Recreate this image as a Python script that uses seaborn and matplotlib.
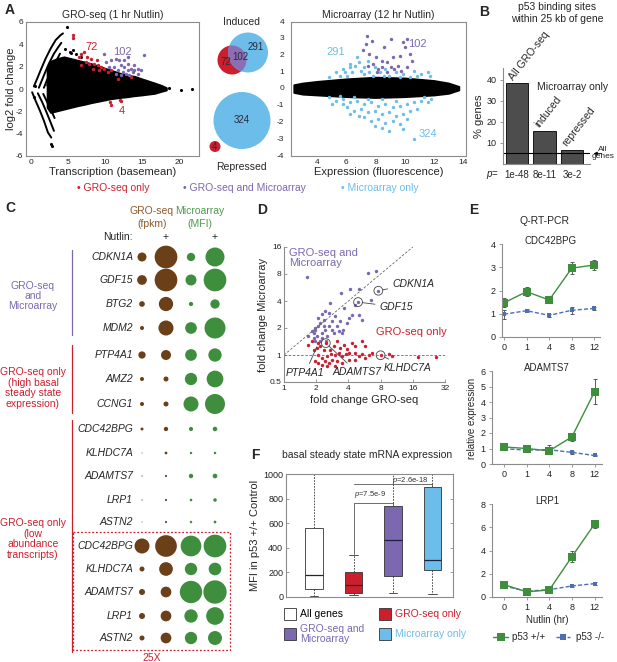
import numpy as np
import pandas as pd
import matplotlib
matplotlib.use("Agg")
import matplotlib.pyplot as plt
from matplotlib.patches import Circle, Rectangle
from matplotlib.lines import Line2D
import seaborn as sns

sns.set_style("white")
plt.rcParams["font.family"] = ["Liberation Sans", "DejaVu Sans"]
plt.rcParams["mathtext.fontset"] = "custom"
plt.rcParams["mathtext.it"] = "Liberation Sans:italic"
plt.rcParams["mathtext.rm"] = "Liberation Sans"
plt.rcParams["axes.unicode_minus"] = False

RED = "#cc1f2e"
PURPLE = "#7b68b0"
SKY = "#6cbde9"
BROWN = "#6b3f18"
GREEN = "#3e8e3e"
GREY = "#8c8c8c"

# ---------------- data: A, GRO-seq MA plot ----------------
gro_cloud_x = [2.17, 2.63, 3.53, 4.44, 5.35, 6.25, 7.16, 8.07, 9.43, 10.79, 12.15, 13.05, 13.96, 14.87, 16.68, 17.59, 18.27]
gro_cloud_hi = [1.97, 2.48, 2.72, 2.87, 2.72, 2.57, 2.42, 2.27, 1.97, 1.67, 1.37, 1.22, 1.13, 0.92, 0.53, 0.32, 0.11]
gro_cloud_lo = [-1.64, -2.09, -1.94, -1.79, -1.64, -1.49, -1.37, -1.22, -1.04, -0.86, -0.74, -0.68, -0.59, -0.53, -0.38, -0.20, -0.08]
gro_arc_x = [[0.36, 0.81, 1.27, 1.95, 2.63, 3.31, 3.99, 4.30],
             [1.04, 1.72, 2.40, 3.08, 3.76, 4.08],
             [1.72, 2.40, 3.08, 3.62, 3.90],
             [2.17, 2.72, 3.31, 3.76],
             [0.13, 0.59, 1.18, 1.72, 2.27, 2.72],
             [0.90, 1.50, 2.08, 2.63, 3.08],
             [1.63, 2.17, 2.72, 3.17]]
gro_arc_y = [[0.23, 0.92, 1.67, 2.72, 3.62, 4.38, 4.83, 4.98],
             [0.11, 1.22, 2.27, 3.17, 3.84, 4.14],
             [0.11, 1.22, 2.12, 2.81, 3.17],
             [0.32, 1.13, 1.82, 2.27],
             [-0.29, -1.04, -1.94, -2.84, -3.90, -4.35],
             [-0.38, -1.19, -2.09, -2.99, -3.75],
             [-0.44, -1.19, -1.94, -2.60]]
gro_black_x = [4.9, 5.2, 5.6, 6.0, 4.6, 6.8, 5.4, 18.7, 20.3, 21.7, 2.63, 2.86, 0.36, 0.5]
gro_black_y = [5.55, 3.3, 3.5, 3.1, 3.6, 2.9, 3.2, 0.1, -0.08, 0.0, -4.95, -5.1, -0.74, 0.3]
gro_only_x = [5.71, 5.71, 6.71, 7.16, 7.61, 8.07, 7.39, 7.84, 8.52, 8.98, 9.43, 9.88, 8.30, 9.20, 10.33, 10.79, 6.71, 11.7, 13.51, 6.53, 8.88,
              10.65, 11.97, 10.79, 12.15]
gro_only_y = [4.83, 4.53, 3.17, 3.32, 2.87, 2.72, 2.42, 2.27, 2.27, 2.12, 1.97, 1.82, 1.82, 1.67, 1.52, 1.67, 2.12, 0.92, 1.07, 2.87, 2.63,
              -1.19, -0.98, -1.40, -1.04]
gro_both_x = [9.88, 10.79, 11.47, 11.92, 12.15, 12.6, 13.05, 13.51, 13.96, 11.24, 11.7, 12.38, 12.83, 13.28, 13.73, 14.41, 14.87, 15.32,
              10.11, 10.56, 13.05, 12.6, 13.96, 11.47, 12.15, 13.05, 14.41]
gro_both_y = [3.17, 2.57, 2.72, 2.57, 2.12, 1.97, 2.27, 1.82, 1.67, 1.97, 1.67, 1.52, 1.37, 1.22, 1.52, 1.37, 1.67, 3.02,
              2.42, 1.97, 2.87, 2.57, 2.12, 1.37, 1.22, 1.67, 1.82]

# ---------------- data: A, microarray MA plot ----------------
ma_cloud_x = [2.4, 3.0, 4.0, 6.0, 8.0, 10.0, 12.0, 13.0, 13.7]
ma_cloud_hi = [0.25, 0.35, 0.45, 0.6, 0.7, 0.65, 0.5, 0.35, 0.15]
ma_cloud_lo = [-0.2, -0.3, -0.35, -0.45, -0.5, -0.45, -0.35, -0.25, -0.05]
ma_only_x = [5.28, 5.77, 6.25, 6.61, 6.98, 7.22, 6.86, 6.37, 6.01, 5.53, 7.46, 7.95, 8.67, 9.40, 9.88, 10.61, 10.85, 11.09, 11.58,
             8.55, 7.83, 8.92, 9.64, 10.37, 7.22, 5.89, 7.58, 8.31, 4.80, 11.7, 6.74, 6.25,
             4.80, 5.28, 5.77, 6.25, 6.74, 7.22, 7.70, 8.19, 8.67, 9.16, 9.64, 10.13, 10.61, 11.09, 11.58, 6.01, 6.49, 6.98,
             7.46, 7.95, 8.43, 8.92, 9.40, 9.88, 10.37, 10.85, 7.22, 7.70, 8.19, 8.67, 9.16, 9.64, 8.43, 8.92, 7.95, 9.88,
             10.61, 9.40, 8.43, 7.46, 6.49, 5.53, 11.34, 11.82, 10.13, 6.86, 6.25, 5.77, 5.04]
ma_only_y = [1.0, 1.2, 1.3, 1.4, 1.1, 0.9, 1.6, 1.0, 0.8, 0.8, 1.7, 1.3, 1.2, 1.0, 0.9, 1.1, 0.8, 0.9, 1.0,
             0.8, 0.8, 0.8, 0.74, 0.74, 1.3, 1.0, 1.0, 1.0, 0.7, 0.8, 1.9, 1.5,
             -0.5, -0.7, -0.6, -0.8, -0.7, -0.9, -0.8, -1.0, -0.9, -1.1, -1.0, -0.9, -0.8, -0.7, -0.8, -1.1, -1.3, -1.2,
             -1.4, -1.3, -1.5, -1.4, -1.6, -1.5, -1.3, -1.2, -1.7, -1.9, -1.8, -2.0, -1.9, -2.1, -2.3, -2.5, -2.2, -2.4,
             -3.0, -0.7, -0.6, -0.6, -0.5, -0.4, -0.5, -0.6, -1.8, -1.6, -1.5, -0.9, -0.9]
ma_both_x = [7.41, 7.75, 7.34, 7.17, 7.58, 8.0, 8.43, 8.79, 9.16, 9.64, 10.0, 10.13, 9.88, 10.37, 9.52, 9.04, 8.19, 7.83, 7.46,
             9.28, 9.76, 8.79, 8.43, 8.07, 10.13, 10.49, 8.55, 9.04]
ma_both_y = [3.14, 2.86, 2.70, 2.30, 2.10, 1.94, 1.70, 1.60, 1.90, 2.0, 2.5, 3.0, 2.8, 2.1, 1.4, 1.3, 1.2, 1.5, 1.4,
             1.2, 1.1, 1.0, 1.34, 1.0, 1.3, 1.7, 2.5, 3.0]

# ---------------- data: B ----------------
b_groups = ["All GRO-seq", "induced", "repressed"]
b_percent = [38.5, 15.8, 6.5]
b_pvals = ["1e-48", "8e-11", "3e-2"]
b_all_genes = 5.0

# ---------------- data: C ----------------
c_genes = ["CDKN1A", "GDF15", "BTG2", "MDM2", "PTP4A1", "AMZ2", "CCNG1",
           "CDC42BPG", "KLHDC7A", "ADAMTS7", "LRP1", "ASTN2"]
gro_ctrl = [81, 94, 32, 16, 53, 16, 16, 9.0, 1.0, 1.44, 1.44, 1.0]
gro_nutlin = [515, 515, 204, 225, 100, 25, 25, 18.8, 7.5, 4.6, 4.6, 4.6]
ma_ctrl = [69, 121, 18.5, 137, 137, 151, 225, 17.1, 6.1, 19.9, 7.1, 6.1]
ma_nutlin = [361, 515, 86, 441, 177, 279, 400, 20.6, 6.4, 21.8, 12.5, 7.8]
zoom_factor = 25

# ---------------- data: D (log2 fold changes) ----------------
d_both_gro = [0.71, 2.61, 2.86, 2.93, 2.30, 2.06, 2.34, 2.69, 1.78, 1.44, 1.85, 2.20, 2.11, 2.32, 2.41, 2.01, 1.75, 1.59, 1.41,
              1.28, 1.18, 1.23, 1.13, 1.07, 0.97, 0.92, 1.02, 1.18, 1.28, 1.39, 1.49, 1.65, 1.80, 1.96, 1.49, 1.18, 0.92,
              0.95, 1.33, 1.70, 1.82, 1.05, 0.86, 1.23, 1.54, 0.76, 1.13, 0.97, 1.31]
d_both_ma = [2.89, 3.04, 3.12, 2.38, 1.96, 2.46, 2.46, 2.02, 2.30, 1.93, 1.74, 1.86, 1.49, 1.49, 1.31, 1.37, 1.25, 1.43, 1.56,
             1.62, 1.53, 1.31, 1.19, 1.06, 0.94, 0.81, 0.69, 0.81, 0.94, 1.06, 0.94, 1.06, 0.81, 1.19, 1.25, 0.63, 0.63,
             1.0, 0.69, 0.88, 0.94, 1.37, 0.88, 1.09, 0.81, 0.72, 0.51, 0.51, 0.51]
d_gro_only_gro = [0.74, 0.86, 1.07, 1.02, 0.92, 1.13, 1.23, 1.07, 1.18, 1.33, 1.47, 1.59, 1.70, 1.80, 1.91, 2.01, 2.22, 2.43,
                  2.64, 2.74, 3.0, 3.26, 3.36, 4.15, 4.72, 1.30, 1.49, 1.65, 1.39, 1.28, 1.44, 1.75, 1.85, 2.11, 2.22, 2.43,
                  2.53, 2.01, 2.22, 1.80, 1.59, 1.07, 1.18, 1.33, 0.97, 1.54, 1.65, 1.96, 2.32, 2.53]
d_gro_only_ma = [0.38, 0.51, 0.44, 0.26, 0.20, 0.32, 0.20, 0.01, -0.11, -0.02, 0.05, 0.01, 0.07, -0.05, 0.05, 0.07, 0.07, 0.04,
                 0.01, 0.07, -0.01, 0.05, -0.02, -0.09, -0.09, 0.44, -0.17, -0.23, -0.30, -0.23, 0.20, 0.26, 0.38, 0.44, 0.32,
                 0.51, 0.32, -0.17, -0.17, -0.30, -0.42, -0.30, -0.36, -0.42, -0.23, 0.32, 0.51, 0.22, -0.05, -0.11]
d_named = ["CDKN1A", "GDF15", "KLHDC7A", "ADAMTS7", "PTP4A1"]
d_named_gro = [2.93, 2.30, 3.0, 1.30, 1.07]
d_named_ma = [2.38, 1.96, -0.01, 0.44, 0.44]

# ---------------- data: E (Q-RT-PCR) ----------------
e_hours = ["0", "1", "4", "8", "12"]
e_genes = ["CDC42BPG", "ADAMTS7", "LRP1"]
e_wt = [[1.47, 1.95, 1.59, 2.96, 3.10], [1.10, 1.00, 0.85, 1.75, 4.66], [1.06, 0.45, 0.60, 3.47, 6.27]]
e_wt_err = [[0.20, 0.20, 0.06, 0.27, 0.22], [0.12, 0.10, 0.15, 0.28, 0.80], [0.12, 0.12, 0.10, 0.45, 0.35]]
e_ko = [[0.98, 1.13, 0.93, 1.15, 1.23], [0.98, 0.90, 0.92, 0.75, 0.55], [0.95, 0.50, 0.63, 0.95, 1.15]]
e_ko_err = [[0.20, 0.06, 0.05, 0.15, 0.06], [0.10, 0.10, 0.30, 0.12, 0.05], [0.10, 0.06, 0.10, 0.10, 0.10]]
e_ymax = [4, 6, 8]

# ---------------- data: F (box summaries) ----------------
f_groups = ["All genes", "GRO-seq only", "GRO-seq and\nMicroarray", "Microarray only"]
f_q1 = [68, 33, 171, 223]
f_med = [179, 100, 467, 304]
f_q3 = [565, 204, 739, 891]
f_wlo = [11, 19, 35, 27]
f_whi = [1500, 345, 1500, 1500]
f_colors = ["white", RED, PURPLE, SKY]

# ---------------- figure helpers ----------------
W, H = 617.0, 662.0
fig = plt.figure(figsize=(W / 100, H / 100), dpi=100)


def add_ax(l, t, r, b):
    return fig.add_axes([l / W, 1 - b / H, (r - l) / W, (b - t) / H])


def ftext(x, y, s, **kw):
    kw.setdefault("ha", "center")
    kw.setdefault("va", "center")
    fig.text(x / W, 1 - y / H, s, **kw)


def matlab_box(ax):
    for sp in ax.spines.values():
        sp.set_color(GREY)
        sp.set_linewidth(0.8)
    ax.tick_params(direction="in", length=2.5, width=0.6, labelsize=6, pad=2, labelcolor="#222222", color=GREY)


def open_axes(ax, direction="out"):
    for s in ["top", "right"]:
        ax.spines[s].set_visible(False)
    for s in ["left", "bottom"]:
        ax.spines[s].set_color(GREY)
        ax.spines[s].set_linewidth(0.8)
    ax.tick_params(direction=direction, length=2.5, width=0.6, labelsize=6.5, pad=2, labelcolor="#222222",
                   color=GREY, left=True, bottom=True)


# ---------------- A left ----------------
ax = add_ax(26, 22, 199, 156)
ax.fill_between(gro_cloud_x, gro_cloud_lo, gro_cloud_hi, color="black", lw=1.5, edgecolor="black")
for xs, ys in zip(gro_arc_x, gro_arc_y):
    ax.plot(xs, ys, color="black", lw=1.4)
sns.scatterplot(x=gro_black_x, y=gro_black_y, color="black", s=5, linewidth=0, ax=ax)
sns.scatterplot(x=gro_only_x, y=gro_only_y, color=RED, s=6, linewidth=0, ax=ax)
sns.scatterplot(x=gro_both_x, y=gro_both_y, color=PURPLE, s=6, linewidth=0, ax=ax)
ax.text(8.2, 3.8, "72", color=RED, fontsize=8, ha="center", va="center")
ax.text(12.4, 3.3, "102", color=PURPLE, fontsize=8, ha="center", va="center")
ax.text(12.3, -1.95, "4", color=RED, fontsize=8, ha="center", va="center")
ax.set_xlim(-0.7, 22.7)
ax.set_ylim(-6, 6)
ax.set_xticks([0, 5, 10, 15, 20])
ax.set_yticks(range(-6, 7, 2))
matlab_box(ax)
ax.set_xlabel("Transcription (basemean)", fontsize=8, labelpad=1)
ax.set_ylabel("log2 fold change", fontsize=8, labelpad=0)
ax.set_title("GRO-seq (1 hr Nutlin)", fontsize=7.5, pad=3)

# ---------------- A venn ----------------
av = add_ax(198, 28, 286, 160)
av.set_xlim(198, 286)
av.set_ylim(160, 28)
av.axis("off")
av.add_patch(Circle((232, 60), 14.5, color=RED, lw=0))
blue_ind = Circle((248, 52.5), 20, color=SKY, lw=0)
av.add_patch(blue_ind)
overlap = Circle((232, 60), 14.5, color="#8b6fb3", lw=0)
av.add_patch(overlap)
overlap.set_clip_path(blue_ind)
av.add_patch(Circle((242, 120.5), 28.5, color=SKY, lw=0))
av.add_patch(Circle((215, 146.5), 5.5, color=RED, lw=0))
for tx, ty, s in [(226, 62, "72"), (240, 57, "102"), (256, 47, "291"), (242, 120, "324"), (215, 147, "4")]:
    av.text(tx, ty, s, fontsize=7, color="#2a2a3a", ha="center", va="center")
ftext(241, 22, "Induced", fontsize=7.5)
ftext(241, 167, "Repressed", fontsize=7.5)

# ---------------- A right ----------------
ax = add_ax(291, 22, 466, 156)
ax.fill_between(ma_cloud_x, ma_cloud_lo, ma_cloud_hi, color="black", lw=1.5, edgecolor="black")
sns.scatterplot(x=ma_only_x, y=ma_only_y, color=SKY, s=6, linewidth=0, ax=ax)
sns.scatterplot(x=ma_both_x, y=ma_both_y, color=PURPLE, s=6, linewidth=0, ax=ax)
ax.text(5.3, 2.2, "291", color=SKY, fontsize=8, ha="center", va="center")
ax.text(10.85, 2.7, "102", color=PURPLE, fontsize=8, ha="center", va="center")
ax.text(11.6, -2.7, "324", color=SKY, fontsize=8, ha="center", va="center")
ax.set_xlim(2.2, 14.2)
ax.set_ylim(-4, 4)
ax.set_xticks([4, 6, 8, 10, 12, 14])
ax.set_yticks(range(-4, 5))
matlab_box(ax)
ax.tick_params(labelleft=False)
ax.set_xlabel("Expression (fluorescence)", fontsize=8, labelpad=1)
ax.set_title("Microarray (12 hr Nutlin)", fontsize=7.5, pad=3)
for yv in range(-4, 5):
    ftext(284, 89 - 16.75 * yv, str(yv), fontsize=6, ha="right")

ftext(77, 188, "• GRO-seq only", color=RED, fontsize=7.5, ha="left")
ftext(183, 188, "• GRO-seq and Microarray", color=PURPLE, fontsize=7.5, ha="left")
ftext(341, 188, "• Microarray only", color=SKY, fontsize=7.5, ha="left")

# ---------------- B ----------------
ax = add_ax(503, 68, 590, 164)
sns.barplot(x=b_groups, y=b_percent, color="#4d4d4d", edgecolor="black", linewidth=0.6, width=0.82, ax=ax)
ax.axhline(b_all_genes, color="black", lw=0.8)
ax.set_xlim(-0.51, 2.65)
ax.set_ylim(0, 45.7)
ax.set_yticks([10, 20, 30, 40])
ax.set_xticks([])
open_axes(ax)
ax.set_ylabel("% genes", fontsize=8, labelpad=2)
ax.set_xlabel("")
rot = [(-0.12, 39.5, "All GRO-seq"), (0.8, 17.0, "induced"), (1.82, 8.1, "repressed")]
for xx, yy, s in rot:
    ax.text(xx, yy, s, rotation=52, rotation_mode="anchor", ha="left", va="baseline", fontsize=7.5, clip_on=False)
ax.text(2.03, 36.5, "Microarray only", fontsize=7.5, ha="center", va="center")
ax.annotate("All\ngenes", xy=(2.68, b_all_genes), xytext=(3.13, b_all_genes), fontsize=6, ha="center", va="center",
            annotation_clip=False, linespacing=1.0,
            arrowprops=dict(arrowstyle="-|>", lw=0.6, color="black", mutation_scale=5, shrinkA=1))
ftext(557, 7.5, "p53 binding sites", fontsize=7.5)
ftext(557, 19.5, "within 25 kb of gene", fontsize=7.5)
ftext(492, 175, "$p$=", fontsize=7)
for i, pv in enumerate(b_pvals):
    ftext(517 + 27.5 * i, 175, pv, fontsize=7)

# ---------------- C ----------------
row_px = [257, 280, 304, 328, 355, 379, 404, 429, 453, 476, 500, 522, 546, 569, 592, 616, 638]
col_px = [142, 166, 191, 215]
expr = np.array([gro_ctrl, gro_nutlin, ma_ctrl, ma_nutlin]).T
expr_all = np.vstack([expr, expr[7:] * zoom_factor])
genes_all = c_genes + c_genes[7:]
recs = []
for i in range(len(genes_all)):
    for j in range(4):
        recs.append(dict(x=col_px[j], y=row_px[i], v=expr_all[i, j], kind="GRO" if j < 2 else "MA"))
df_c = pd.DataFrame(recs)

axc = add_ax(0, 195, 262, 662)
sns.scatterplot(data=df_c, x="x", y="y", size="v", hue="kind", palette={"GRO": BROWN, "MA": GREEN},
                sizes=(0, 550 * 0.5184), size_norm=(0, 550), linewidth=0, legend=False, ax=axc)
axc.set_xlim(0, 262)
axc.set_ylim(662, 195)
axc.axis("off")
for i, g in enumerate(genes_all):
    axc.text(133, row_px[i], g, fontsize=7.5, style="italic", ha="right", va="center")
axc.text(152, 211, "GRO-seq", color="#8a5a2b", fontsize=7.5, ha="center", va="center")
axc.text(152, 224, "(fpkm)", color="#8a5a2b", fontsize=7.5, ha="center", va="center")
axc.text(200, 211, "Microarray", color="#4c9a4c", fontsize=7.5, ha="center", va="center")
axc.text(200, 224, "(MFI)", color="#4c9a4c", fontsize=7.5, ha="center", va="center")
axc.text(133, 237, "Nutlin:", fontsize=7.5, ha="right", va="center")
axc.text(166, 237, "+", fontsize=7.5, ha="center", va="center")
axc.text(215, 237, "+", fontsize=7.5, ha="center", va="center")
axc.plot([72, 72], [250, 335], color=PURPLE, lw=0.9)
axc.plot([72, 72], [345, 413], color=RED, lw=0.9)
axc.plot([72, 72], [420, 652], color=RED, lw=0.9)
axc.text(33, 296, "GRO-seq\nand\nMicroarray", color=PURPLE, fontsize=7.5, ha="center", va="center", linespacing=1.05)
axc.text(33, 388, "GRO-seq only\n(high basal\nsteady state\nexpression)", color=RED, fontsize=7.5, ha="center",
         va="center", linespacing=1.05)
axc.text(33, 539, "GRO-seq only\n(low\nabundance\ntranscripts)", color=RED, fontsize=7.5, ha="center",
         va="center", linespacing=1.05)
axc.add_patch(Rectangle((73, 532), 157, 118, fill=False, ec=RED, lw=0.9, ls=(0, (1.5, 1.5))))
axc.text(152, 658, "25X", color=RED, fontsize=7.5, ha="center", va="center")

# ---------------- D ----------------
ax = add_ax(284, 247, 445, 382)
ax.set_xscale("log", base=2)
ax.set_yscale("log", base=2)
ax.axhline(1, color="#666666", lw=0.6, ls=(0, (3, 2)))
ax.plot([1, 16], [1, 16], color="#666666", lw=0.6, ls=(0, (3, 2)))
sns.scatterplot(x=np.power(2, d_both_gro), y=np.power(2, d_both_ma), color=PURPLE, s=6, linewidth=0, ax=ax)
sns.scatterplot(x=np.power(2, d_gro_only_gro), y=np.power(2, d_gro_only_ma), color=RED, s=6, linewidth=0, ax=ax)
nx = np.power(2, d_named_gro)
ny = np.power(2, d_named_ma)
ax.scatter(nx[:4], ny[:4], s=40, facecolors="none", edgecolors="#444444", linewidths=0.6)
lab_pos = [(3.36, 2.64), (2.97, 1.78), (3.10, -0.48), (1.51, -0.64), (0.06, -0.67)]
for k, g in enumerate(d_named):
    ax.annotate(g, xy=(nx[k], ny[k]), xytext=(2 ** lab_pos[k][0], 2 ** lab_pos[k][1]), fontsize=7.5, style="italic",
                ha="left", va="center", annotation_clip=False,
                arrowprops=dict(arrowstyle="-", lw=0.6, color="#444444", shrinkA=1, shrinkB=3))
ax.text(2 ** 0.17, 2 ** 3.96, "GRO-seq and\nMicroarray", color=PURPLE, fontsize=8, ha="left", va="top", linespacing=1.05)
ax.text(2 ** 3.96, 2 ** 0.84, "GRO-seq only", color=RED, fontsize=8, ha="center", va="center")
ax.set_xlim(1, 32)
ax.set_ylim(0.5, 16)
ax.set_xticks([1, 2, 4, 8, 16, 32])
ax.set_xticklabels(["1", "2", "4", "8", "16", "32"])
ax.set_yticks([0.5, 1, 2, 4, 8, 16])
ax.set_yticklabels(["0.5", "1", "2", "4", "8", "16"])
ax.minorticks_off()
open_axes(ax, "in")
ax.tick_params(labelsize=6)
ax.set_xlabel("fold change GRO-seq", fontsize=8, labelpad=2)
ax.set_ylabel("fold change Microarray", fontsize=8, labelpad=1)

# ---------------- E ----------------
e_rects = [(502, 244, 600, 337), (492, 371, 602, 464), (492, 504, 602, 597)]
e_xlims = [(-0.09, 4.25), (-0.53, 4.33), (-0.53, 4.33)]
e_steps = [1, 1, 2]
pos = np.arange(len(e_hours))
for k in range(3):
    ax = add_ax(*e_rects[k])
    ax.errorbar(pos, e_ko[k], yerr=e_ko_err[k], fmt="none", ecolor="#444444", elinewidth=0.6, capsize=1.5, capthick=0.6)
    ax.errorbar(pos, e_wt[k], yerr=e_wt_err[k], fmt="none", ecolor="#444444", elinewidth=0.6, capsize=1.5, capthick=0.6)
    sns.lineplot(x=pos, y=e_ko[k], color="#4a6fb5", lw=1.0, ls=(0, (3, 1.5)), marker="s", markersize=3.5,
                 markeredgewidth=0, ax=ax)
    sns.lineplot(x=pos, y=e_wt[k], color=GREEN, lw=1.0, marker="s", markersize=5.5, markeredgewidth=0, ax=ax)
    ax.set_xlim(*e_xlims[k])
    ax.set_ylim(0, e_ymax[k])
    ax.set_xticks(pos)
    ax.set_xticklabels(e_hours)
    ax.set_yticks(np.arange(0, e_ymax[k] + 1, e_steps[k]))
    open_axes(ax)
    ax.set_title(e_genes[k], fontsize=7, pad=0)
ax.set_xlabel("Nutlin (hr)", fontsize=7, labelpad=2)
ftext(545, 221, "Q-RT-PCR", fontsize=7.5)
ftext(472, 418, "relative expression", fontsize=7, rotation=90)
leg_y = 637
fig.add_artist(Line2D([493 / W, 508 / W], [1 - leg_y / H] * 2, color=GREEN, lw=1.0))
fig.add_artist(Line2D([500.5 / W], [1 - leg_y / H], color=GREEN, marker="s", markersize=5.5, markeredgewidth=0))
ftext(512, leg_y, "p53 +/+", fontsize=7, ha="left")
fig.add_artist(Line2D([556 / W, 570 / W], [1 - leg_y / H] * 2, color="#4a6fb5", lw=1.0, ls=(0, (2.5, 1.5))))
fig.add_artist(Line2D([563 / W], [1 - leg_y / H], color="#4a6fb5", marker="s", markersize=4.5, markeredgewidth=0))
ftext(576, leg_y, "p53 -/-", fontsize=7, ha="left")

# ---------------- F ----------------
ax = add_ax(286, 474, 453, 597)
stats = [dict(q1=f_q1[i], med=f_med[i], q3=f_q3[i], whislo=f_wlo[i], whishi=f_whi[i], label="")
         for i in range(4)]
bp = ax.bxp(stats, positions=range(4), widths=0.45, patch_artist=True, showfliers=False,
            whiskerprops=dict(ls=(0, (2, 1.5)), color="#333333", lw=0.6),
            capprops=dict(color="#333333", lw=0.6), medianprops=dict(color="#202040", lw=0.9),
            boxprops=dict(lw=0.6, edgecolor="#333333"))
for patch, c in zip(bp["boxes"], f_colors):
    patch.set_facecolor(c)
ax.set_xlim(-0.71, 3.52)
ax.set_ylim(0, 1000)
ax.set_xticks([])
ax.set_yticks(range(0, 1001, 200))
matlab_box(ax)
ax.yaxis.set_ticks_position("both")
ax.tick_params(labelsize=6.5)
ax.set_ylabel("MFI in p53 +/+ Control", fontsize=8, labelpad=2)
ax.plot([1, 1, 2, 2], [350, 766, 766, 740], color="#555555", lw=0.6)
ax.plot([1, 3, 3], [918, 918, 891], color="#555555", lw=0.6)
ax.text(1.42, 830, "$p$=7.5e-9", fontsize=5.5, ha="center", va="center", color="#333333")
ax.text(2.43, 951, "$p$=2.6e-18", fontsize=5.5, ha="center", va="center", color="#333333")
ftext(367, 455, "basal steady state mRNA expression", fontsize=7.5)
leg = [(284, 614, 0), (379, 614, 1), (284, 634, 2), (379, 634, 3)]
txt_cols = ["black", RED, PURPLE, SKY]
for lx, ly, i in leg:
    fig.add_artist(Rectangle((lx / W, 1 - (ly + 6) / H), 12 / W, 12 / H, transform=fig.transFigure,
                             facecolor=f_colors[i], edgecolor="#333333", lw=0.6))
    ftext(lx + 16, ly, f_groups[i], color=txt_cols[i], fontsize=7.5, ha="left", linespacing=1.0)

# ---------------- panel letters ----------------
for lx, ly, s in [(10, 10, "A"), (484, 12, "B"), (10, 208, "C"), (262, 210, "D"), (474, 210, "E"), (255, 455, "F")]:
    ftext(lx, ly, s, fontsize=10, fontweight="bold")

fig.savefig("out.png", dpi=100)
